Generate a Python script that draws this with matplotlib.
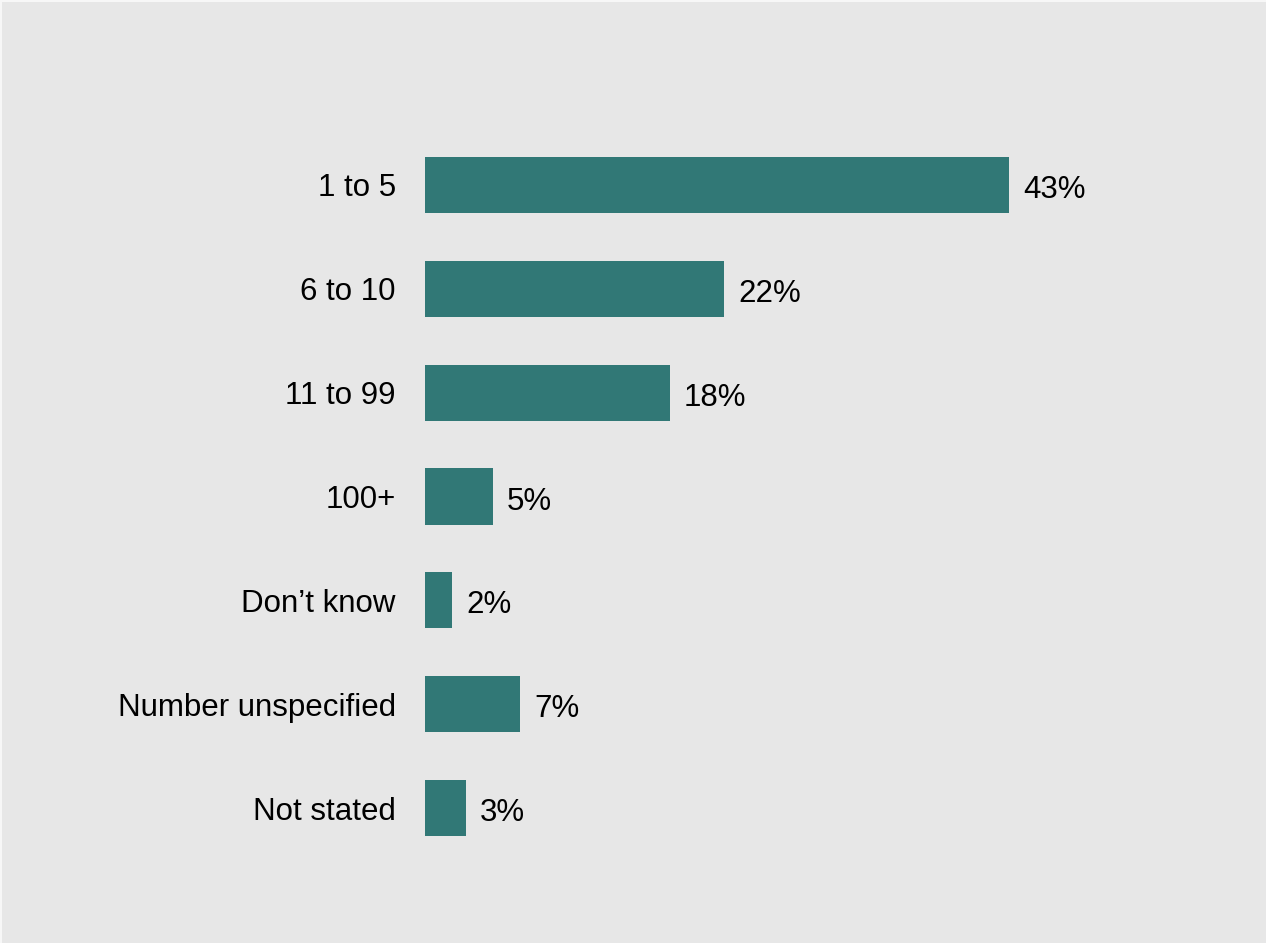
import matplotlib
matplotlib.use("Agg")
import matplotlib.pyplot as plt
from matplotlib.lines import Line2D

categories = ["1 to 5", "6 to 10", "11 to 99", "100+", "Don\u2019t know",
              "Number unspecified", "Not stated"]
values = [43, 22, 18, 5, 2, 7, 3]

BG = "#e7e7e7"
BAR = "#317876"

plt.rcParams["font.family"] = ["Liberation Sans", "DejaVu Sans"]

fig = plt.figure(figsize=(12.66, 9.43), dpi=100, facecolor=BG)
ax = fig.add_axes([425 / 1266, 1 - 860 / 943, 815 / 1266, (860 - 133) / 943])
ax.set_facecolor(BG)

ypos = list(range(len(categories)))
ax.barh(ypos, values, height=0.54, color=BAR)

ax.set_xlim(0, 60)
ax.set_ylim(len(categories) - 0.5, -0.5)

for y, v in zip(ypos, values):
    ax.text(v + 1.05, y + 0.015, f"{v}%", va="center_baseline", ha="left",
            fontsize=22.5, color="black")

ax.set_yticks(ypos)
ax.set_yticklabels(categories, fontsize=22.5, color="black")
for lbl in ax.get_yticklabels():
    lbl.set_verticalalignment("center_baseline")
ax.tick_params(axis="y", length=0, pad=21)
ax.set_xticks([])
for s in ax.spines.values():
    s.set_visible(False)

# light frame edge along the top and left
fig.add_artist(Line2D([0, 1], [1 - 0.5 / 943] * 2, color="#f7f7f7", lw=1.5,
                      transform=fig.transFigure))
fig.add_artist(Line2D([0.5 / 1266] * 2, [0, 1], color="#f7f7f7", lw=1.5,
                      transform=fig.transFigure))

fig.savefig("out.png", dpi=100, facecolor=BG)
